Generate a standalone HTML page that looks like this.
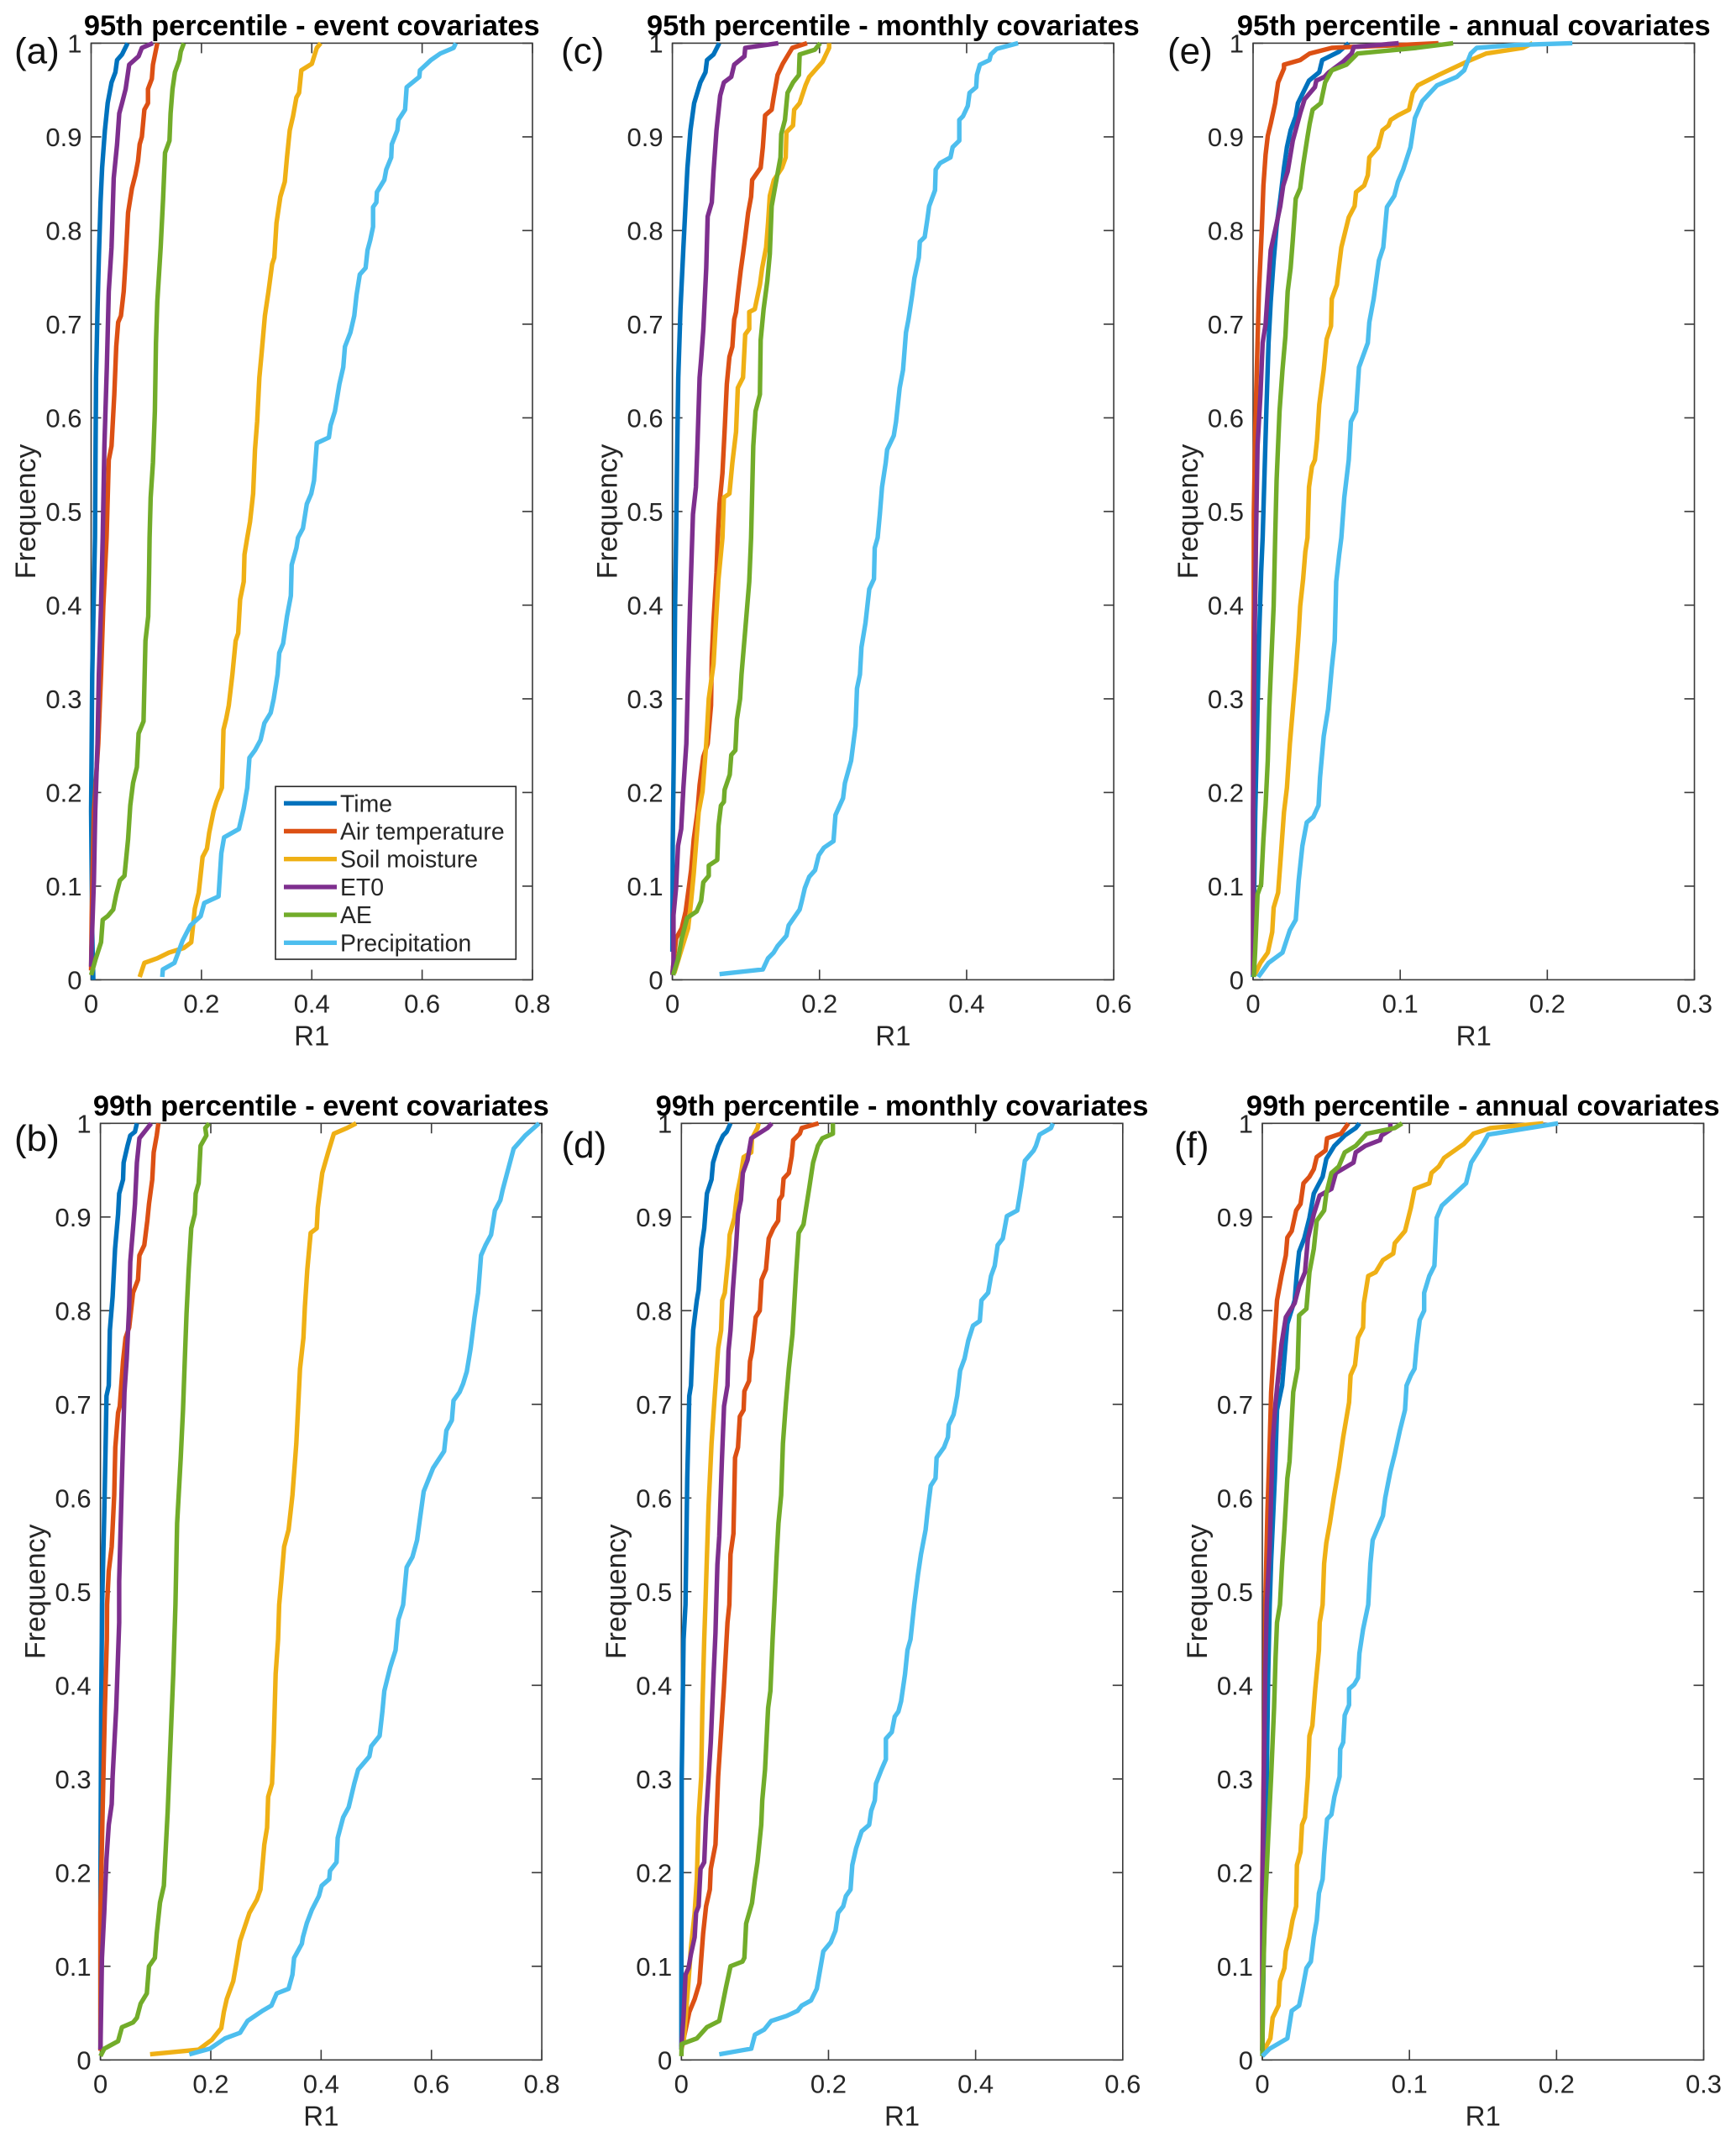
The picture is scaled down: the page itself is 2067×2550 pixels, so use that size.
<!DOCTYPE html>
<html lang="en">
<head>
<meta charset="utf-8">
<title>R1 frequency curves by percentile and covariate timescale</title>
<style>
html,body{margin:0;padding:0;background:#fff;}
svg{display:block;font-family:"Liberation Sans",Arial,sans-serif;}
</style>
</head>
<body>
<svg id="figure" xmlns="http://www.w3.org/2000/svg" width="2067" height="2550" viewBox="0 0 2067 2550"></svg>
<script>
const seriesNames = ["Time","Air temperature","Soil moisture","ET0","AE","Precipitation"];
const freqTicks = [0,0.1,0.2,0.3,0.4,0.5,0.6,0.7,0.8,0.9,1];
const freqTickLabels = ["0","0.1","0.2","0.3","0.4","0.5","0.6","0.7","0.8","0.9","1"];
const xTicksWide = [0,0.2,0.4,0.6,0.8];
const xTicksWideLabels = ["0","0.2","0.4","0.6","0.8"];
const xTicksMid = [0,0.2,0.4,0.6];
const xTicksMidLabels = ["0","0.2","0.4","0.6"];
const xTicksNarrow = [0,0.1,0.2,0.3];
const xTicksNarrowLabels = ["0","0.1","0.2","0.3"];

/* Each series is a list of [R1, frequency] pairs. */
const aTime = [[.066,1],[.056,.988],[.047,.982],[.044,.969],[.037,.958],[.03,.936],[.025,.907],[.02,.867],[.017,.83],[.014,.771],[.0116,.716],[.009,.643],[.008,.57],[.007,.472],[.002,.326],[0,.18],[.002,.05],[.004,0]];
const aAir = [[.12,1],[.112,.977],[.11,.962],[.103,.951],[.103,.936],[.0965,.929],[.092,.9],[.088,.892],[.085,.874],[.08,.859],[.074,.845],[.067,.819],[.0625,.768],[.059,.735],[.054,.709],[.049,.702],[.0455,.676],[.042,.625],[.037,.57],[.032,.555],[.028,.472],[.022,.399],[.018,.326],[.013,.252],[.005,.18],[.001,.069],[0,.01]];
const aSoil = [[.416,1],[.409,.995],[.4,.978],[.381,.971],[.377,.947],[.372,.942],[.366,.922],[.36,.907],[.355,.878],[.351,.852],[.343,.836],[.336,.808],[.332,.771],[.328,.764],[.3215,.735],[.315,.709],[.309,.669],[.305,.643],[.301,.596],[.297,.566],[.2936,.519],[.288,.489],[.283,.472],[.278,.454],[.2766,.425],[.27,.406],[.2665,.37],[.262,.362],[.256,.326],[.2495,.293],[.245,.279],[.24,.267],[.237,.205],[.227,.19],[.222,.18],[.214,.157],[.21,.14],[.202,.131],[.195,.093],[.188,.076],[.1815,.04],[.168,.034],[.141,.029],[.12,.023],[.0965,.018],[.088,.003]];
const aEt0 = [[.112,1],[.092,.995],[.086,.986],[.069,.977],[.0625,.951],[.056,.936],[.051,.925],[.047,.892],[.041,.856],[.037,.782],[.032,.735],[.0285,.654],[.024,.57],[.021,.472],[.018,.399],[.014,.326],[.0116,.252],[.0075,.18],[.005,.106],[.0007,.033],[0,.014]];
const aAe = [[.168,1],[.1625,.991],[.16,.982],[.152,.969],[.1475,.951],[.144,.925],[.142,.896],[.134,.883],[.1305,.834],[.126,.782],[.12,.724],[.1176,.68],[.1155,.607],[.112,.552],[.108,.515],[.106,.472],[.105,.435],[.1035,.388],[.0985,.362],[.095,.276],[.086,.263],[.083,.227],[.076,.21],[.071,.186],[.067,.15],[.0605,.111],[.052,.106],[.0455,.091],[.04,.075],[.03,.068],[.021,.064],[.018,.04],[.008,.022],[0,.005]];
const aPrecip = [[.661,1],[.657,.995],[.633,.989],[.616,.982],[.596,.971],[.595,.964],[.572,.953],[.569,.929],[.557,.918],[.555,.907],[.545,.892],[.544,.878],[.535,.865],[.5315,.854],[.518,.841],[.517,.83],[.511,.825],[.511,.804],[.506,.79],[.501,.779],[.4975,.76],[.487,.753],[.481,.731],[.477,.709],[.47,.691],[.46,.676],[.457,.654],[.45,.636],[.442,.607],[.434,.592],[.431,.579],[.409,.573],[.404,.533],[.399,.519],[.391,.508],[.384,.482],[.375,.472],[.372,.461],[.3636,.443],[.362,.41],[.355,.388],[.348,.359],[.341,.349],[.338,.326],[.331,.3],[.3255,.285],[.314,.274],[.307,.256],[.297,.245],[.287,.237],[.283,.205],[.2766,.183],[.268,.161],[.241,.152],[.236,.135],[.231,.089],[.205,.082],[.1985,.068],[.18,.058],[.166,.042],[.151,.018],[.13,.011],[.129,.003]];

const bTime = [[.066,1],[.0625,.991],[.054,.987],[.049,.976],[.042,.958],[.041,.94],[.034,.925],[.032,.903],[.0265,.866],[.022,.815],[.017,.779],[.015,.72],[.011,.709],[.0095,.658],[.007,.585],[.003,.486],[.0014,.376],[0,.193],[0,.011]];
const bAir = [[.105,1],[.102,.987],[.0965,.969],[.094,.94],[.088,.914],[.085,.896],[.0795,.87],[.0707,.859],[.068,.833],[.059,.819],[.052,.782],[.0455,.771],[.041,.746],[.035,.698],[.032,.691],[.027,.654],[.025,.603],[.0204,.548],[.015,.522],[.012,.486],[.0116,.449],[.008,.376],[.004,.266],[0,.157],[0,.01]];
const bSoil = [[.4636,1],[.447,.995],[.423,.989],[.4127,.969],[.402,.947],[.394,.91],[.392,.888],[.381,.883],[.375,.844],[.3705,.804],[.368,.771],[.3617,.738],[.358,.694],[.355,.658],[.348,.603],[.341,.566],[.333,.548],[.3277,.511],[.324,.486],[.322,.449],[.3175,.412],[.314,.339],[.311,.295],[.304,.281],[.302,.248],[.297,.23],[.29,.182],[.2835,.171],[.27,.157],[.253,.127],[.246,.102],[.2407,.084],[.229,.065],[.2236,.051],[.219,.034],[.202,.0215],[.178,.011],[.09,.006]];
const bEt0 = [[.092,1],[.0707,.984],[.066,.958],[.0625,.914],[.059,.888],[.054,.852],[.052,.804],[.0476,.749],[.0435,.713],[.039,.621],[.034,.511],[.034,.467],[.0286,.376],[.022,.3025],[.0204,.273],[.015,.251],[.011,.215],[.0068,.157],[.0027,.109],[0,.011]];
const bAe = [[.197,1],[.19,.995],[.192,.987],[.1815,.976],[.178,.936],[.1727,.925],[.171,.903],[.1645,.888],[.16,.844],[.156,.797],[.153,.749],[.1496,.694],[.1455,.643],[.139,.573],[.136,.486],[.132,.412],[.127,.339],[.122,.266],[.117,.211],[.115,.186],[.108,.168],[.102,.135],[.0986,.109],[.088,.1],[.084,.071],[.0727,.06],[.066,.045],[.059,.04],[.039,.035],[.032,.02],[.007,.012],[0,.004]];
const bPrecip = [[.795,1],[.77,.987],[.749,.973],[.729,.929],[.725,.918],[.715,.907],[.708,.881],[.698,.87],[.69,.859],[.6846,.819],[.678,.793],[.671,.76],[.664,.735],[.6574,.722],[.651,.713],[.64,.704],[.637,.683],[.627,.672],[.623,.65],[.603,.632],[.586,.607],[.579,.577],[.574,.555],[.5656,.537],[.555,.526],[.5486,.486],[.54,.47],[.535,.4375],[.525,.419],[.5146,.394],[.511,.372],[.506,.346],[.491,.335],[.4875,.324],[.467,.31],[.46,.295],[.45,.27],[.44,.259],[.43,.237],[.428,.211],[.416,.202],[.4147,.193],[.401,.186],[.396,.175],[.383,.16],[.374,.146],[.367,.131],[.365,.124],[.351,.109],[.348,.091],[.341,.076],[.3195,.071],[.31,.058],[.2937,.0525],[.2665,.0416],[.253,.029],[.2257,.023],[.1985,.012],[.161,.006]];

const cTime = [[.0637,1],[.056,.988],[.047,.982],[.045,.969],[.038,.958],[.0296,.936],[.0245,.907],[.0204,.867],[.018,.83],[.015,.782],[.011,.716],[.008,.643],[.0066,.57],[.005,.472],[.0036,.399],[.002,.252],[.0005,.143],[0,.03]];
const cAir = [[.183,1],[.163,.995],[.15,.978],[.143,.966],[.1376,.942],[.135,.929],[.126,.923],[.123,.889],[.12,.867],[.1085,.854],[.107,.836],[.103,.819],[.099,.793],[.096,.775],[.0928,.757],[.089,.731],[.0866,.713],[.084,.705],[.0815,.676],[.0775,.665],[.074,.636],[.0714,.592],[.068,.541],[.064,.508],[.0617,.472],[.06,.435],[.056,.384],[.0535,.344],[.0525,.293],[.048,.252],[.042,.238],[.037,.208],[.034,.179],[.029,.15],[.0255,.117],[.018,.073],[.0127,.055],[.005,.044],[0,.007]];
const cSoil = [[.213,1],[.213,.995],[.204,.98],[.196,.973],[.186,.964],[.181,.955],[.173,.936],[.1656,.929],[.164,.912],[.155,.905],[.154,.878],[.149,.867],[.138,.854],[.1325,.837],[.13,.808],[.1274,.782],[.122,.76],[.119,.742],[.112,.716],[.1045,.713],[.1045,.695],[.099,.689],[.096,.643],[.089,.632],[.0866,.585],[.0815,.552],[.0775,.519],[.07,.515],[.068,.472],[.0627,.428],[.0596,.388],[.056,.337],[.0494,.3],[.046,.252],[.041,.201],[.0357,.179],[.032,.1425],[.029,.113],[.0255,.084],[.0214,.055],[.0127,.033],[.0025,.007]];
const cEt0 = [[.144,1],[.099,.995],[.098,.986],[.084,.977],[.08,.964],[.07,.958],[.065,.944],[.06,.907],[.056,.863],[.0535,.83],[.048,.815],[.046,.76],[.042,.694],[.039,.662],[.037,.643],[.034,.57],[.032,.526],[.028,.497],[.027,.472],[.024,.399],[.0214,.326],[.019,.252],[.015,.205],[.012,.161],[.0076,.143],[.005,.0985],[.0015,.069],[.0015,.018],[0,.005]];
const cAe = [[.201,1],[.1937,.993],[.173,.988],[.172,.966],[.164,.958],[.1565,.947],[.153,.918],[.148,.903],[.147,.878],[.14,.848],[.135,.826],[.1325,.775],[.129,.746],[.124,.716],[.12,.683],[.119,.625],[.113,.607],[.11,.57],[.107,.472],[.1045,.425],[.099,.373],[.094,.326],[.092,.3],[.0877,.278],[.0856,.245],[.08,.24],[.078,.219],[.071,.203],[.07,.19],[.066,.186],[.0627,.1645],[.061,.128],[.0494,.122],[.0494,.111],[.042,.104],[.039,.084],[.033,.073],[.02,.066],[.0127,.044],[.0076,.022],[.001,.005]];
const cPrecip = [[.47,1],[.441,.994],[.433,.988],[.431,.982],[.418,.977],[.414,.966],[.413,.953],[.404,.947],[.4016,.933],[.395,.922],[.39,.918],[.39,.896],[.381,.889],[.378,.878],[.364,.872],[.358,.865],[.357,.843],[.349,.826],[.3466,.812],[.343,.793],[.3364,.788],[.335,.771],[.329,.749],[.326,.731],[.321,.705],[.3175,.691],[.3135,.651],[.309,.632],[.304,.596],[.301,.581],[.292,.566],[.29,.552],[.285,.526],[.282,.497],[.279,.472],[.275,.461],[.274,.428],[.2676,.417],[.2625,.381],[.257,.355],[.255,.326],[.251,.311],[.249,.271],[.243,.234],[.2345,.21],[.232,.194],[.2217,.176],[.219,.148],[.206,.141],[.199,.133],[.194,.117],[.186,.11],[.18,.098],[.176,.084],[.173,.075],[.158,.058],[.155,.047],[.143,.036],[.1376,.029],[.13,.023],[.123,.011],[.064,.006]];

const dTime = [[.0668,1],[.0617,.991],[.0566,.987],[.05,.976],[.043,.958],[.041,.94],[.0347,.925],[.031,.888],[.027,.866],[.0234,.822],[.021,.811],[.016,.779],[.013,.72],[.0107,.709],[.008,.621],[.0056,.486],[.003,.449],[.0005,.3025],[0,.12],[0,.011]];
const dAir = [[.1865,1],[.1636,.995],[.161,.989],[.152,.982],[.15,.965],[.146,.947],[.139,.941],[.137,.923],[.133,.918],[.1315,.896],[.125,.888],[.1188,.877],[.115,.844],[.109,.833],[.1065,.8],[.101,.793],[.0963,.757],[.0933,.746],[.092,.725],[.0856,.714],[.0846,.694],[.0795,.687],[.077,.654],[.073,.643],[.0708,.562],[.0668,.54],[.0652,.486],[.0627,.467],[.0576,.394],[.053,.339],[.05,.3025],[.0464,.23],[.04,.204],[.0387,.182],[.0336,.164],[.0296,.135],[.026,.098],[.0245,.082],[.018,.065],[.0107,.051],[0,.011]];
const dSoil = [[.105,1],[.1035,.995],[.096,.984],[.095,.969],[.0846,.964],[.0805,.943],[.0754,.923],[.072,.899],[.0657,.881],[.064,.859],[.059,.819],[.0555,.811],[.054,.779],[.05,.76],[.048,.738],[.045,.705],[.041,.658],[.037,.592],[.0347,.537],[.0326,.486],[.031,.449],[.0285,.376],[.027,.3025],[.0234,.259],[.021,.193],[.018,.157],[.013,.12],[.0097,.084],[.003,.018]];
const dEt0 = [[.123,1],[.117,.995],[.095,.984],[.09,.961],[.0836,.947],[.081,.918],[.077,.903],[.0744,.87],[.07,.822],[.0668,.779],[.064,.757],[.0627,.72],[.058,.698],[.055,.639],[.0515,.559],[.049,.529],[.0474,.486],[.0464,.456],[.0438,.412],[.04,.339],[.0336,.259],[.031,.211],[.026,.204],[.0234,.164],[.02,.157],[.018,.131],[.013,.113],[.0097,.098],[.0056,.091],[.003,.047],[0,.014]];
const dAe = [[.206,1],[.206,.989],[.1916,.984],[.1855,.976],[.179,.958],[.174,.932],[.169,.907],[.166,.892],[.1595,.883],[.156,.841],[.151,.775],[.146,.738],[.142,.701],[.138,.658],[.1356,.603],[.132,.573],[.1295,.537],[.1264,.486],[.124,.449],[.121,.394],[.118,.376],[.1167,.357],[.1137,.31],[.11,.277],[.1086,.251],[.1035,.211],[.1,.193],[.096,.1675],[.088,.1456],[.0856,.109],[.083,.105],[.0668,.1],[.0607,.078],[.0515,.0416],[.0347,.035],[.021,.023],[.0005,.017],[0,.004]];
const dPrecip = [[.505,1],[.5025,.995],[.487,.988],[.482,.976],[.479,.971],[.467,.96],[.462,.932],[.4567,.907],[.4426,.901],[.437,.877],[.43,.87],[.426,.848],[.421,.837],[.417,.819],[.408,.811],[.4057,.789],[.3965,.784],[.39,.768],[.385,.749],[.379,.736],[.375,.709],[.37,.689],[.3634,.678],[.3624,.665],[.357,.654],[.347,.643],[.3455,.621],[.339,.613],[.335,.588],[.332,.566],[.3257,.54],[.3216,.518],[.3165,.486],[.3115,.449],[.3074,.4376],[.304,.412],[.2987,.383],[.295,.372],[.29,.3665],[.286,.35],[.278,.343],[.278,.321],[.272,.31],[.2645,.295],[.263,.277],[.258,.266],[.2553,.251],[.245,.244],[.2375,.226],[.2324,.208],[.23,.182],[.2237,.175],[.22,.164],[.213,.157],[.2095,.138],[.203,.1255],[.193,.116],[.189,.098],[.184,.076],[.1763,.0635],[.1636,.058],[.158,.0525],[.143,.047],[.122,.0416],[.1127,.0325],[.1,.027],[.095,.012],[.0515,.006]];

const eTime = [[.065,1],[.0585,.991],[.047,.982],[.045,.969],[.038,.96],[.0305,.936],[.029,.922],[.0255,.907],[.023,.889],[.021,.867],[.0185,.834],[.016,.804],[.014,.768],[.012,.724],[.0105,.68],[.009,.607],[.008,.552],[.0065,.472],[.0055,.435],[.004,.362],[.003,.289],[.0015,.179],[.0005,.069],[0,.003]];
const eAir = [[.126,1],[.086,.997],[.066,.996],[.0535,.995],[.0385,.989],[.032,.982],[.021,.977],[.021,.973],[.017,.958],[.015,.936],[.012,.914],[.01,.901],[.0085,.881],[.007,.848],[.006,.804],[.004,.735],[.003,.68],[.0015,.588],[.0005,.497],[.0005,.399],[0,.289],[0,.01]];
const eSoil = [[.19,1],[.1835,.995],[.1585,.989],[.145,.98],[.126,.966],[.112,.955],[.1085,.947],[.106,.929],[.0985,.923],[.0935,.918],[.092,.912],[.088,.907],[.085,.889],[.079,.878],[.078,.859],[.0755,.848],[.07,.841],[.069,.826],[.065,.814],[.06,.782],[.058,.757],[.057,.742],[.0535,.727],[.053,.698],[.05,.684],[.048,.651],[.045,.614],[.0435,.577],[.042,.555],[.04,.548],[.038,.526],[.037,.472],[.0355,.457],[.034,.428],[.032,.399],[.031,.37],[.029,.326],[.027,.289],[.025,.252],[.023,.205],[.021,.179],[.0185,.124],[.017,.093],[.014,.077],[.013,.051],[.01,.029],[.005,.018],[.001,.005]];
const eEt0 = [[.099,1],[.0685,.996],[.067,.989],[.061,.98],[.0515,.969],[.0485,.964],[.043,.96],[.042,.953],[.035,.94],[.032,.925],[.027,.896],[.0235,.863],[.0205,.848],[.0185,.826],[.0155,.804],[.012,.779],[.01,.735],[.0085,.7],[.0065,.68],[.005,.625],[.003,.57],[.002,.472],[.001,.362],[0,.18],[0,.005]];
const eAe = [[.136,1],[.111,.995],[.071,.989],[.0635,.977],[.0535,.971],[.049,.958],[.046,.936],[.0405,.929],[.0385,.914],[.037,.9],[.034,.87],[.032,.845],[.029,.834],[.027,.79],[.0255,.76],[.0235,.735],[.022,.687],[.02,.651],[.018,.607],[.016,.533],[.015,.472],[.014,.399],[.012,.326],[.011,.289],[.01,.234],[.0085,.186],[.007,.15],[.0055,.102],[.003,.091],[.0015,.033],[.0005,.003]];
const ePrecip = [[.217,1],[.1785,.998],[.152,.995],[.148,.989],[.1435,.971],[.1385,.964],[.125,.955],[.115,.938],[.11,.92],[.107,.889],[.102,.865],[.0985,.852],[.096,.837],[.091,.825],[.0885,.782],[.0855,.768],[.082,.727],[.079,.702],[.078,.68],[.072,.654],[.07,.607],[.0665,.596],[.065,.555],[.062,.515],[.06,.472],[.0585,.454],[.0565,.425],[.0555,.362],[.0535,.333],[.051,.289],[.048,.26],[.0455,.216],[.0445,.186],[.041,.174],[.0365,.168],[.0335,.143],[.031,.106],[.029,.064],[.025,.053],[.02,.029],[.0105,.018],[.0035,.003]];

const fTime = [[.066,1],[.0635,.995],[.056,.987],[.049,.976],[.0435,.962],[.041,.943],[.035,.925],[.032,.899],[.0285,.877],[.025,.863],[.0235,.841],[.022,.811],[.017,.786],[.016,.768],[.0135,.72],[.01,.694],[.0085,.621],[.006,.533],[.005,.486],[.004,.412],[.003,.3025],[.001,.12],[0,.01]];
const fAir = [[.0585,1],[.0535,.989],[.044,.984],[.043,.971],[.037,.964],[.035,.951],[.032,.943],[.028,.936],[.026,.914],[.023,.907],[.02,.885],[.017,.878],[.016,.859],[.013,.837],[.01,.811],[.0085,.775],[.006,.713],[.005,.658],[.0035,.585],[.002,.486],[.0015,.376],[0,.193],[0,.01]];
const fSoil = [[.191,1],[.155,.995],[.1435,.989],[.137,.978],[.1235,.963],[.12,.954],[.115,.947],[.1135,.936],[.1035,.93],[.101,.91],[.097,.885],[.09,.872],[.089,.861],[.082,.854],[.077,.841],[.072,.837],[.069,.808],[.0685,.782],[.065,.771],[.063,.742],[.06,.731],[.059,.702],[.055,.665],[.052,.632],[.0485,.6],[.046,.574],[.0435,.552],[.042,.53],[.041,.486],[.039,.467],[.0385,.4375],[.036,.397],[.034,.357],[.032,.346],[.031,.3025],[.029,.259],[.027,.251],[.026,.222],[.0235,.208],[.023,.164],[.0205,.149],[.0185,.131],[.016,.116],[.015,.098],[.012,.084],[.011,.058],[.007,.045],[.0055,.023],[0,.007]];
const fEt0 = [[.087,1],[.087,.993],[.081,.987],[.08,.982],[.07,.976],[.0635,.969],[.062,.958],[.05,.947],[.047,.93],[.039,.923],[.035,.903],[.031,.877],[.029,.841],[.025,.826],[.022,.808],[.016,.793],[.013,.764],[.009,.702],[.007,.658],[.005,.548],[.003,.486],[.002,.412],[.001,.3025],[0,.175],[0,.01]];
const fAe = [[.095,1],[.09,.995],[.071,.989],[.0635,.976],[.056,.969],[.052,.954],[.047,.947],[.0435,.925],[.042,.907],[.037,.896],[.035,.866],[.032,.841],[.03,.802],[.025,.795],[.024,.738],[.021,.713],[.0185,.639],[.017,.621],[.015,.566],[.0135,.53],[.012,.486],[.01,.467],[.009,.43],[.008,.376],[.006,.3025],[.004,.237],[.002,.1675],[.0005,.084],[0,.004]];
const fPrecip = [[.201,1],[.1535,.988],[.15,.978],[.142,.958],[.1385,.936],[.122,.912],[.1185,.899],[.117,.848],[.1135,.837],[.11,.819],[.11,.8],[.107,.79],[.105,.764],[.1035,.738],[.101,.731],[.098,.72],[.097,.694],[.0935,.672],[.09,.647],[.087,.628],[.0835,.6],[.082,.581],[.075,.555],[.0735,.53],[.072,.486],[.0685,.46],[.066,.434],[.065,.408],[.0625,.401],[.059,.396],[.059,.379],[.056,.368],[.055,.339],[.053,.332],[.0525,.3025],[.049,.281],[.047,.262],[.044,.257],[.042,.219],[.041,.193],[.0385,.178],[.037,.149],[.035,.131],[.033,.105],[.03,.098],[.027,.073],[.025,.058],[.02,.0525],[.017,.023],[.005,.012],[0,.004]];

const seriesColors = ["#0072BD","#DC5014","#EFB015","#7E2F8E","#72AC2A","#4DBEEE"];

const panels = [
  {id:"a",title:"95th percentile - event covariates",left:108.5,top:51.4,xMax:.8,xt:xTicksWide,xl:xTicksWideLabels,labelX:17,labelY:75.5,yLabelX:42,series:[aTime,aAir,aSoil,aEt0,aAe,aPrecip],legend:true},
  {id:"b",title:"99th percentile - event covariates",left:119.6,top:1337.3,xMax:.8,xt:xTicksWide,xl:xTicksWideLabels,labelX:17,labelY:1370,yLabelX:53.5,series:[bTime,bAir,bSoil,bEt0,bAe,bPrecip]},
  {id:"c",title:"95th percentile - monthly covariates",left:800.6,top:51.4,xMax:.6,xt:xTicksMid,xl:xTicksMidLabels,labelX:668,labelY:75.5,yLabelX:734.5,series:[cTime,cAir,cSoil,cEt0,cAe,cPrecip]},
  {id:"d",title:"99th percentile - monthly covariates",left:811.3,top:1337.3,xMax:.6,xt:xTicksMid,xl:xTicksMidLabels,labelX:668.5,labelY:1378,yLabelX:745,series:[dTime,dAir,dSoil,dEt0,dAe,dPrecip]},
  {id:"e",title:"95th percentile - annual covariates",left:1492,top:51.4,xMax:.3,xt:xTicksNarrow,xl:xTicksNarrowLabels,labelX:1390,labelY:75.5,yLabelX:1426,series:[eTime,eAir,eSoil,eEt0,eAe,ePrecip]},
  {id:"f",title:"99th percentile - annual covariates",left:1503,top:1337.3,xMax:.3,xt:xTicksNarrow,xl:xTicksNarrowLabels,labelX:1398,labelY:1378,yLabelX:1437,series:[fTime,fAir,fSoil,fEt0,fAe,fPrecip]}
];

const PANEL_W = 525.5, PANEL_H = 1115, TICK = 12, AXIS = "#3a3a3a", INK = "#262626";
const NS = "http://www.w3.org/2000/svg";
const figure = document.getElementById("figure");

function make(parent, tag, attrs, text) {
  const el = document.createElementNS(NS, tag);
  for (const k in attrs) el.setAttribute(k, attrs[k]);
  if (text !== undefined) el.textContent = text;
  parent.appendChild(el);
  return el;
}
function slug(s) { return s.toLowerCase().replace(/[^a-z0-9]+/g, "-"); }

panels.forEach(function (p) {
  const xScale = function (v) { return p.left + (v / p.xMax) * PANEL_W; };
  const yScale = function (v) { return p.top + PANEL_H - v * PANEL_H; };
  const right = p.left + PANEL_W, bottom = p.top + PANEL_H;

  const g = make(figure, "g", {});
  
  

  const frame = make(g, "rect", {x:p.left, y:p.top, width:PANEL_W, height:PANEL_H, fill:"#fff", stroke:AXIS, "stroke-width":1.6});
  
  

  freqTicks.forEach(function (t, i) {
    const y = yScale(t);
    const tl = make(g, "path", {d:"M" + p.left + " " + y + "h" + TICK + "M" + right + " " + y + "h" + (-TICK), stroke:AXIS, "stroke-width":1.6, fill:"none"});
    
    
    const lb = make(g, "text", {x:p.left - 11, y:y + 11, "text-anchor":"end", "font-size":31, fill:INK}, freqTickLabels[i]);
    
    
  });

  p.xt.forEach(function (t, i) {
    const x = xScale(t);
    const tl = make(g, "path", {d:"M" + x + " " + bottom + "v" + (-TICK) + "M" + x + " " + p.top + "v" + TICK, stroke:AXIS, "stroke-width":1.6, fill:"none"});
    
    
    const lb = make(g, "text", {x:x, y:bottom + 39, "text-anchor":"middle", "font-size":31, fill:INK}, p.xl[i]);
    
    
  });

  p.series.forEach(function (pts, i) {
    const d = pts.map(function (q, j) { return (j ? "L" : "M") + xScale(q[0]).toFixed(1) + " " + yScale(q[1]).toFixed(1); }).join("");
    const line = make(g, "path", {d:d, fill:"none", stroke:seriesColors[i], "stroke-width":5.4, "stroke-linejoin":"round"});
    
    
  });

  const title = make(g, "text", {x:p.left + PANEL_W / 2, y:p.top - 9.5, "text-anchor":"middle", "font-size":34.4, "font-weight":"bold", fill:"#000"}, p.title);
  
  

  const tag = make(g, "text", {x:p.labelX, y:p.labelY, "font-size":44, fill:"#111"}, "(" + p.id + ")");
  
  

  const xTitle = make(g, "text", {x:p.left + PANEL_W / 2, y:bottom + 78, "text-anchor":"middle", "font-size":33, fill:INK}, "R1");
  
  

  const yMid = p.top + PANEL_H / 2;
  const yTitle = make(g, "text", {x:p.yLabelX, y:yMid, "text-anchor":"middle", "font-size":34, fill:INK, transform:"rotate(-90 " + p.yLabelX + " " + yMid + ")"}, "Frequency");
  
  

  if (p.legend) {
    const lg = make(g, "g", {});
    
    
    const box = make(lg, "rect", {x:328, y:936.3, width:286.3, height:205.7, fill:"#fff", stroke:"#262626", "stroke-width":1.6});
    
    
    seriesNames.forEach(function (name, i) {
      const ly = 956.3 + i * 33.2;
      const sw = make(lg, "line", {x1:338, x2:401, y1:ly, y2:ly, stroke:seriesColors[i], "stroke-width":5.4});
      
      
      const tx = make(lg, "text", {x:405, y:ly + 10, "font-size":28.4, fill:INK}, name);
      
      
    });
  }
});
</script>
</body>
</html>
